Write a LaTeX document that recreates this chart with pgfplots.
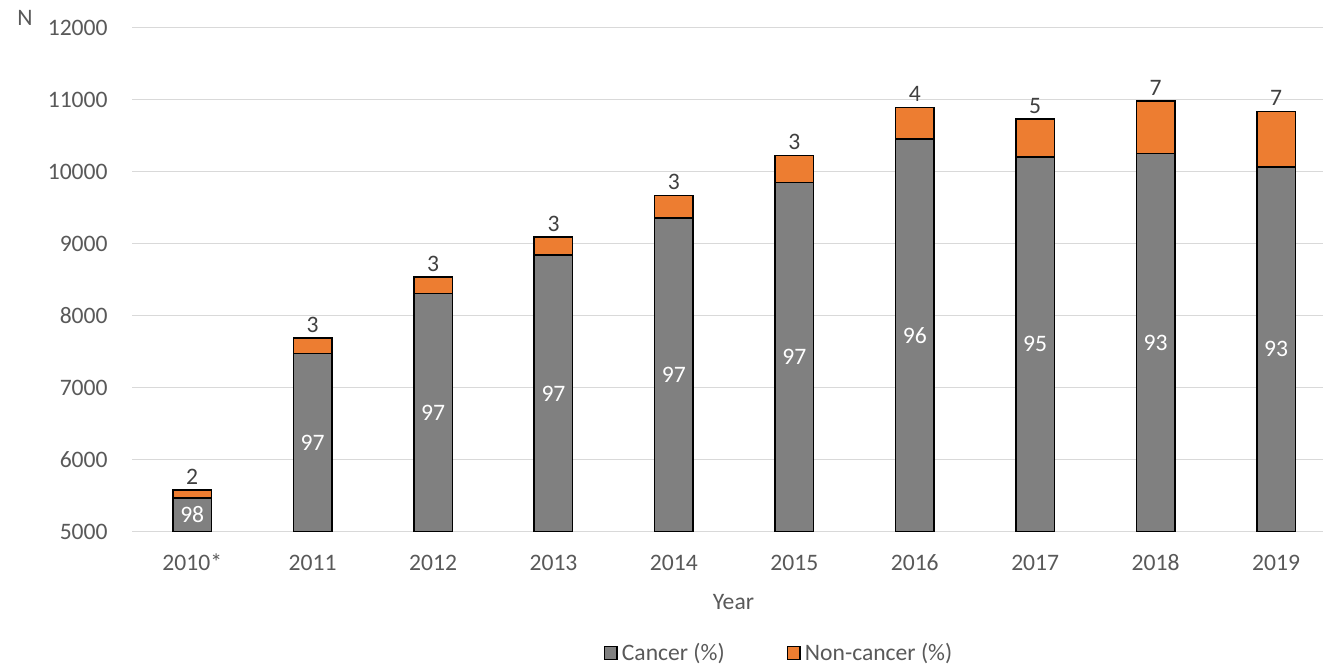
\documentclass[border=0pt]{standalone}
\usepackage{fontspec}
\setmainfont{Carlito}
\usepackage{pgfplots}
\usepackage{pgfplotstable}
\pgfplotsset{compat=1.18}
\definecolor{cgray}{HTML}{808080}
\definecolor{corange}{HTML}{ED7D31}
\definecolor{gridc}{HTML}{D9D9D9}
\definecolor{txt}{HTML}{595959}
\definecolor{dlab}{HTML}{404040}
\pgfplotstableread{
x cancer non pc pn
0 5470 110 98 2
1 7475 215 97 3
2 8310 225 97 3
3 8840 250 97 3
4 9355 315 97 3
5 9850 375 97 3
6 10455 440 96 4
7 10205 525 95 5
8 10250 735 93 7
9 10065 770 93 7
}\data
\begin{document}
\begin{tikzpicture}
\newcommand{\fs}{\fontsize{11.8}{14}\selectfont}
\begin{axis}[
  at={(66pt,66.15pt)}, anchor=south west,
  scale only axis, width=595.5pt, height=252pt,
  ybar stacked, bar width=19.25pt,
  xmin=-0.5, xmax=9.39, ymin=5000, ymax=12000,
  xtick={0,...,9},
  xticklabels={2010*,2011,2012,2013,2014,2015,2016,2017,2018,2019},
  ytick={5000,6000,...,12000},
  scaled y ticks=false,
  /pgf/number format/1000 sep={},
  /pgf/number format/assume math mode=true,
  ymajorgrids, grid style={color=gridc, line width=0.75pt},
  axis line style={draw=none},
  major tick length=0pt,
  tick label style={font=\fs, text=txt},
  yticklabel style={anchor=east, inner sep=0pt, xshift=-12pt},
  xticklabel style={anchor=base, inner sep=0pt, yshift=-19.5pt},
  xlabel={Year},
  xlabel style={at={(axis description cs:0.505,0)}, anchor=center, yshift=-35pt, font=\fs, text=txt},
  ylabel={N},
  ylabel style={rotate=-90, at={(axis description cs:0,1)}, anchor=center, xshift=-53.5pt, yshift=4.75pt, font=\fs, text=txt},
  legend image code/.code={\draw[#1, line width=0.75pt] (0pt,-3.2pt) rectangle (6.4pt,3.2pt);},
  legend style={draw=none, fill=none, at={(rel axis cs:0.544,-0.2407)}, anchor=center, legend columns=2, font=\fs, text=txt,
    /tikz/every even column/.append style={column sep=29pt}, inner sep=0pt},
  legend cell align=left,
]
\addplot[fill=cgray, draw=black, line width=0.75pt,
  nodes near coords, point meta=explicit symbolic,
  every node near coord/.append style={anchor=center, text=white, font=\fs, yshift=90pt}]
  table[x=x, y=cancer, meta=pc] {\data};
\addlegendentry{Cancer (\%)}
\addplot[fill=corange, draw=black, line width=0.75pt,
  nodes near coords, point meta=explicit symbolic,
  visualization depends on={\thisrow{non} \as \nval},
  every node near coord/.append style={anchor=south, text=dlab, font=\fs, inner sep=2.5pt, yshift={\nval*0.018pt}}]
  table[x=x, y=non, meta=pn] {\data};
\addlegendentry{Non-cancer (\%)}
\end{axis}
\pgfresetboundingbox
\path (0pt,0pt) rectangle (662pt,332pt);
\end{tikzpicture}
\end{document}
